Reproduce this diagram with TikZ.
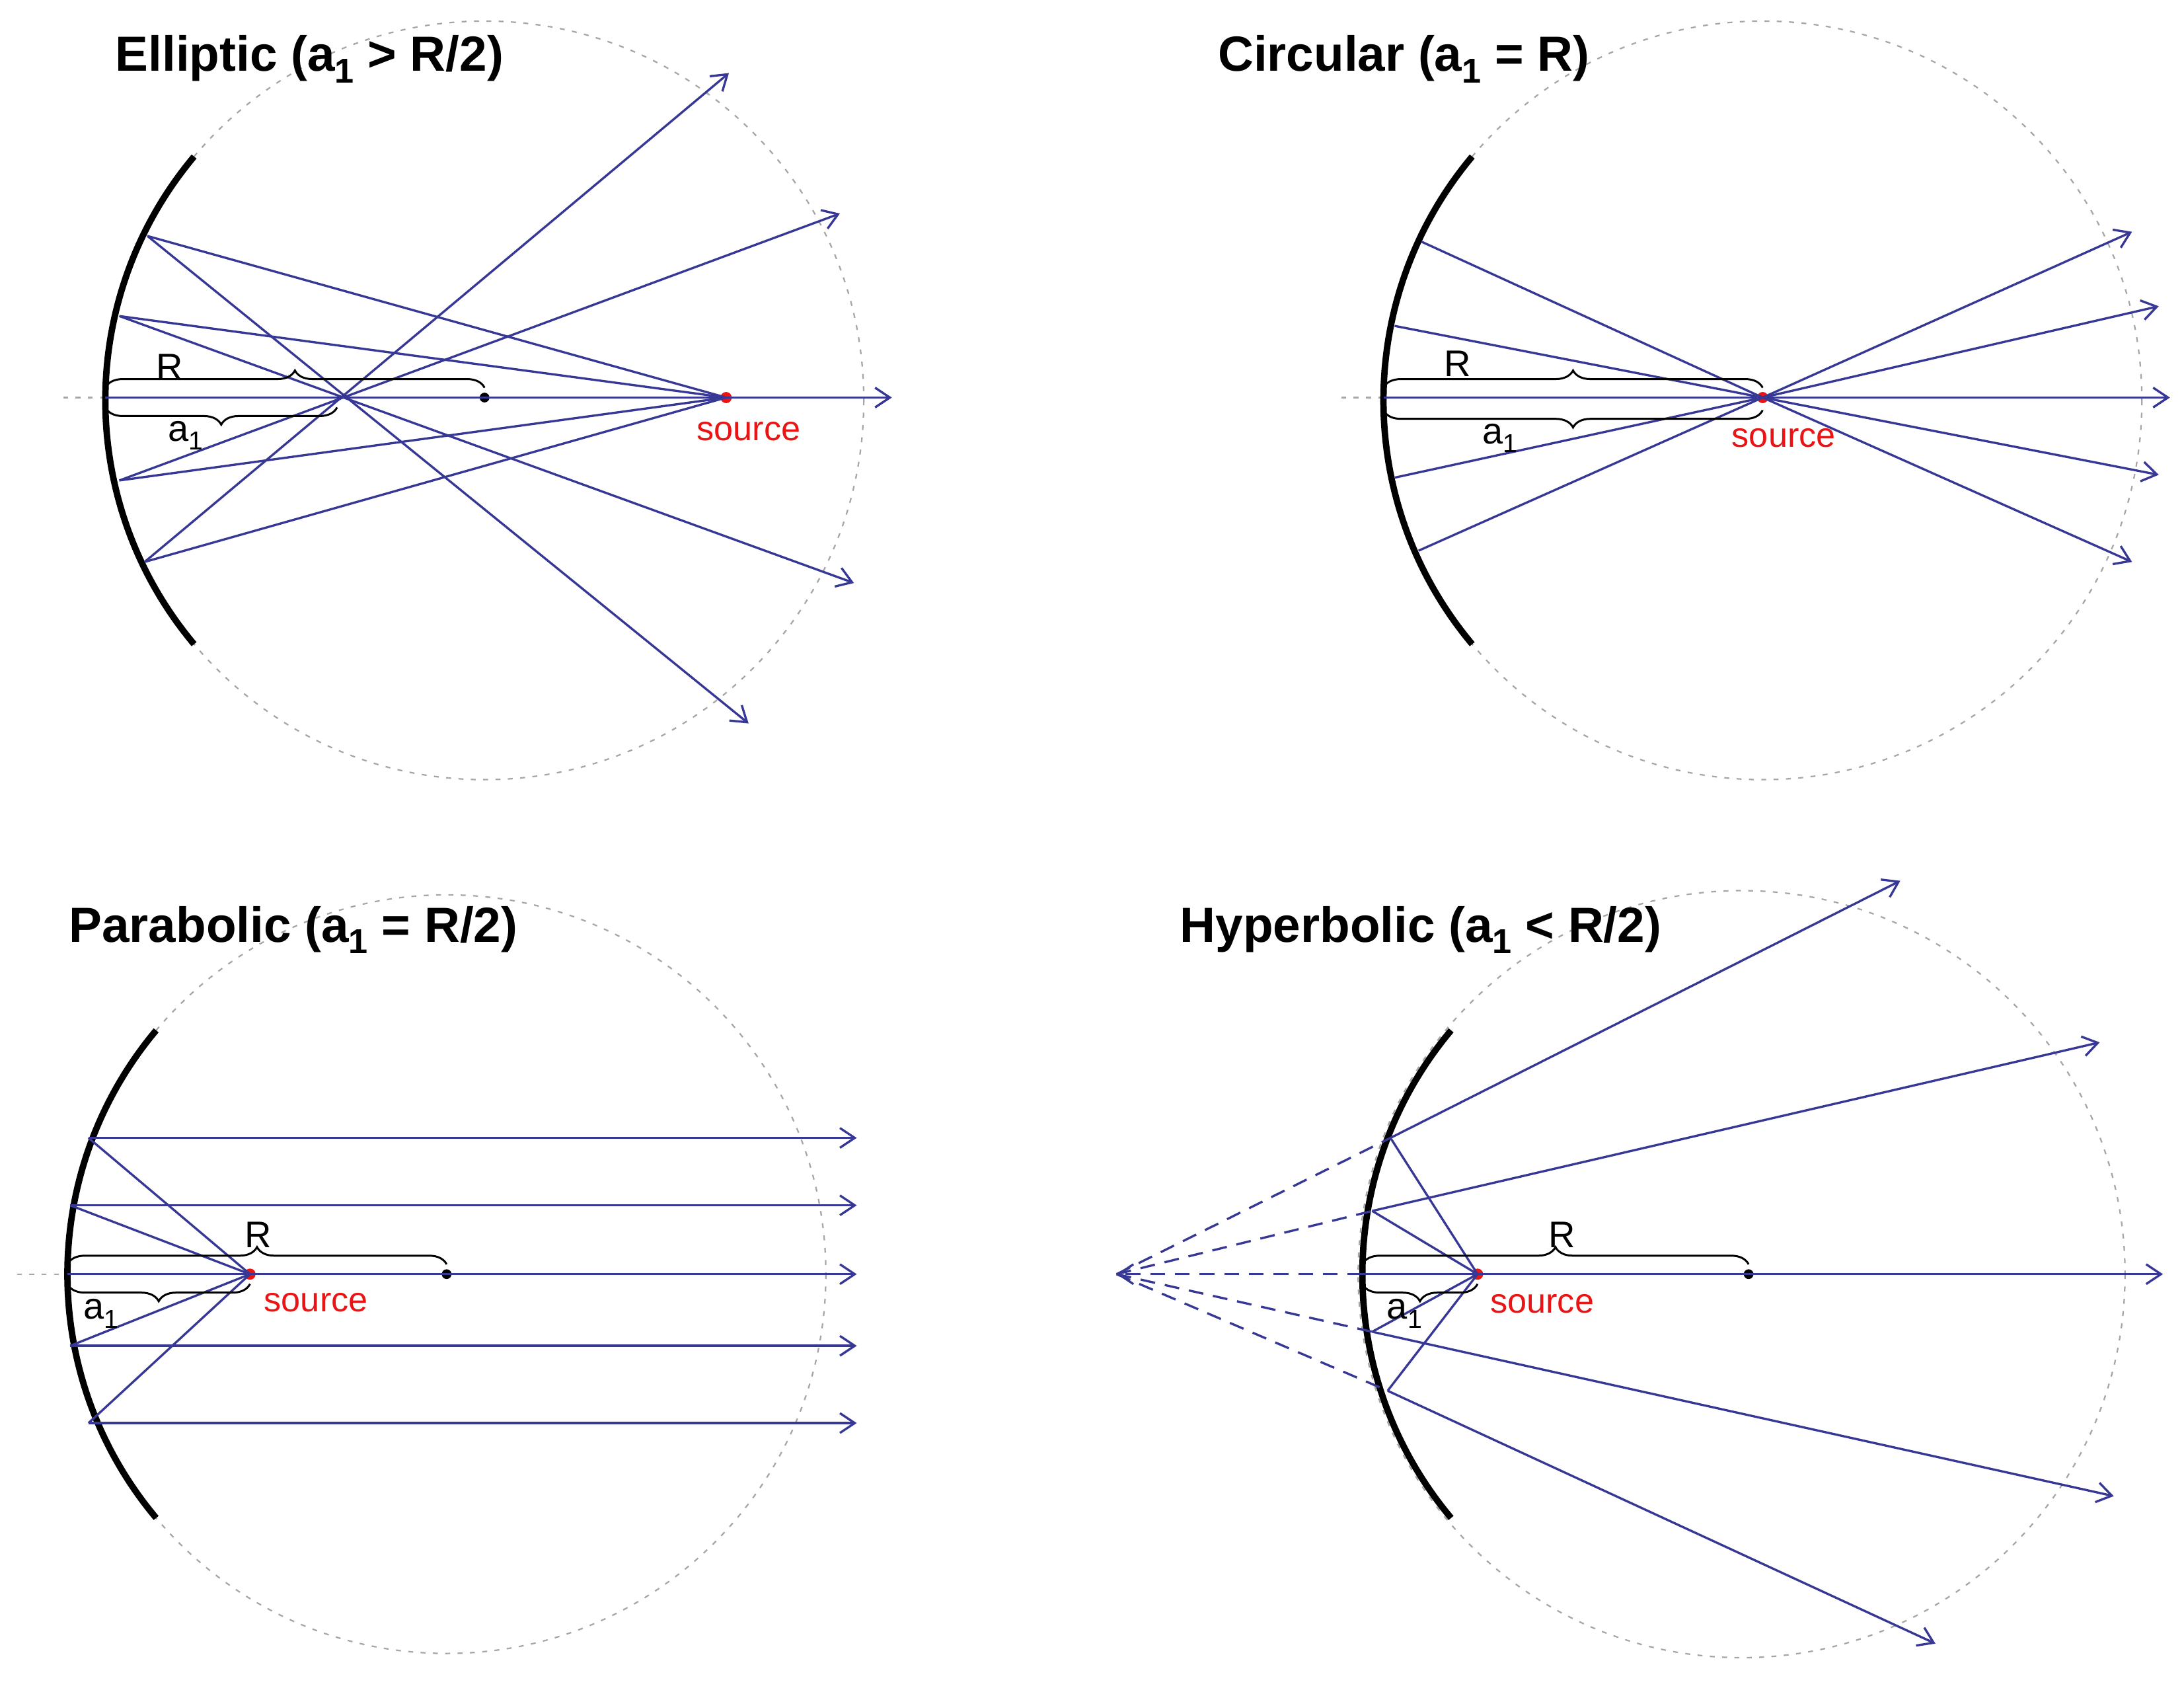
\documentclass[tikz,border=0pt]{standalone}
\usepackage{fontspec}
\setmainfont{Liberation Sans}
\usetikzlibrary{decorations.pathreplacing,arrows.meta}
\definecolor{ray}{RGB}{55,55,150}
\definecolor{src}{RGB}{235,20,20}
\newcommand{\sbone}{\raisebox{-0.45ex}{\fontsize{0.7em}{1em}\selectfont 1}}
\begin{document}
\begin{tikzpicture}[x=0.02cm,y=-0.02cm,
  ray/.style={draw=ray,line width=0.9pt},
  arr/.style={ray,-{Straight Barb[length=6pt,width=8pt]}},
  vray/.style={ray,dashed,dash pattern=on 6pt off 4pt},
  guide/.style={draw=gray!70,line width=0.6pt,dash pattern=on 2pt off 3pt},
  mirror/.style={draw=black,line width=2.6pt},
  brace/.style={decorate,decoration={brace,amplitude=7pt},line width=0.8pt},
  mbrace/.style={decorate,decoration={brace,amplitude=7pt,mirror},line width=0.8pt},
  title/.style={font=\fontsize{20}{24}\selectfont\bfseries,anchor=west},
  lab/.style={font=\fontsize{15}{17}\selectfont},
  slab/.style={font=\fontsize{14}{16}\selectfont,text=src},
  sdot/.style={fill=src,draw=none,circle,inner sep=1.6pt},
  cdot/.style={fill=black,draw=none,circle,inner sep=1.4pt}]
\useasboundingbox (0,0) rectangle (1555,1207);

%% Panel 1: Elliptic
\coordinate (c1) at (345,285);
\draw[guide] (c1) circle[radius=270];
\draw[guide] (45,283) -- (75,283);
\draw[mirror] (c1) ++(140:270) arc[start angle=140,end angle=220,radius=270];
\node[sdot] (s1) at (517,283) {};
\node[cdot] (k1) at (345,283) {};
\coordinate (m1v) at (75,283);
\foreach \mx/\my/\ex/\ey [count=\i] in {105/168/533/515,85/225/608/415,85/342/598/152,103/400/519/52}{
  \coordinate (p1\i) at (\mx,\my); \coordinate (e1\i) at (\ex,\ey);
  \draw[ray] (s1.center) -- (p1\i);
  \draw[arr] (p1\i) -- (e1\i);}
\coordinate (e10) at (635,283);
\draw[arr] (m1v) -- (e10);
\draw[brace] (75,276) -- (345,276);
\draw[mbrace] (75,290) -- (240,290);
\node[lab] (R1) at (121,261) {R};
\node[lab] (A1) at (132,310) {a\sbone};
\node[slab] (S1) at (533,307) {source};
\node[title] (T1) at (76,42) {Elliptic (a\sbone{} > R/2)};

%% Panel 2: Circular
\coordinate (c2) at (1255,285);
\draw[guide] (c2) circle[radius=270];
\draw[guide] (955,283) -- (985,283);
\draw[mirror] (c2) ++(140:270) arc[start angle=140,end angle=220,radius=270];
\node[sdot] (s2) at (1255,283) {};
\coordinate (m2v) at (985,283);
\foreach \mx/\my/\ex/\ey [count=\i] in {1012/172/1518/165,993/232/1537/218,993/340/1537/338,1010/392/1518/400}{
  \coordinate (p2\i) at (\mx,\my); \coordinate (e2\i) at (\ex,\ey);
  \draw[ray] (p2\i) -- (s2.center);
  \draw[arr] (s2.center) -- (e2\i);}
\coordinate (e20) at (1545,283);
\draw[arr] (m2v) -- (e20);
\draw[brace] (985,276) -- (1255,276);
\draw[mbrace] (985,292) -- (1255,292);
\node[lab] (R2) at (1038,259) {R};
\node[lab] (A2) at (1068,312) {a\sbone};
\node[slab] (S2) at (1270,312) {source};
\node[title] (T2) at (861,42) {Circular (a\sbone{} = R)};

%% Panel 3: Parabolic
\coordinate (c3) at (318,907);
\draw[guide] (c3) circle[radius=270];
\draw[guide] (12,907) -- (48,907);
\draw[mirror] (c3) ++(140:270) arc[start angle=140,end angle=220,radius=270];
\node[sdot] (s3) at (178,907) {};
\node[cdot] (k3) at (318,907) {};
\coordinate (m3v) at (48,907);
\foreach \mx/\my/\ex/\ey [count=\i] in {63/810/610/810,50/858/610/858,50/958/610/958,63/1013/610/1013}{
  \coordinate (p3\i) at (\mx,\my); \coordinate (e3\i) at (\ex,\ey);
  \draw[ray] (s3.center) -- (p3\i);
  \draw[arr] (p3\i) -- (e3\i);}
\coordinate (e30) at (610,907);
\draw[arr] (m3v) -- (e30);
\draw[brace] (48,900) -- (318,900);
\draw[mbrace] (48,914) -- (178,914);
\node[lab] (R3) at (184,879) {R};
\node[lab] (A3) at (72,935) {a\sbone};
\node[slab] (S3) at (225,927) {source};
\node[title] (T3) at (43,662) {Parabolic (a\sbone{} = R/2)};

%% Panel 4: Hyperbolic
\coordinate (c4) at (1240,907);
\draw[guide] (c4) circle[radius=273];
\draw[mirror] (c4) ++(140:270) arc[start angle=140,end angle=220,radius=270];
\node[sdot] (s4) at (1052,907) {};
\node[cdot] (k4) at (1245,907) {};
\coordinate (m4v) at (970,907);
\coordinate (v4) at (795,907);
\foreach \mx/\my/\ex/\ey [count=\i] in {990/810/1353/627,977/862/1495/742,977/948/1505/1065,988/990/1378/1170}{
  \coordinate (p4\i) at (\mx,\my); \coordinate (e4\i) at (\ex,\ey);
  \draw[ray] (s4.center) -- (p4\i);
  \draw[vray] (v4) -- (p4\i);
  \draw[arr] (p4\i) -- (e4\i);}
\draw[vray,-{Straight Barb[length=6pt,width=8pt]}] (m4v) -- (v4);
\coordinate (e40) at (1540,907);
\draw[arr] (m4v) -- (e40);
\draw[brace] (970,900) -- (1245,900);
\draw[mbrace] (970,914) -- (1052,914);
\node[lab] (R4) at (1112,879) {R};
\node[lab] (A4) at (1000,935) {a\sbone};
\node[slab] (S4) at (1098,928) {source};
\node[title] (T4) at (834,662) {Hyperbolic (a\sbone{} < R/2)};
\end{tikzpicture}
\end{document}
